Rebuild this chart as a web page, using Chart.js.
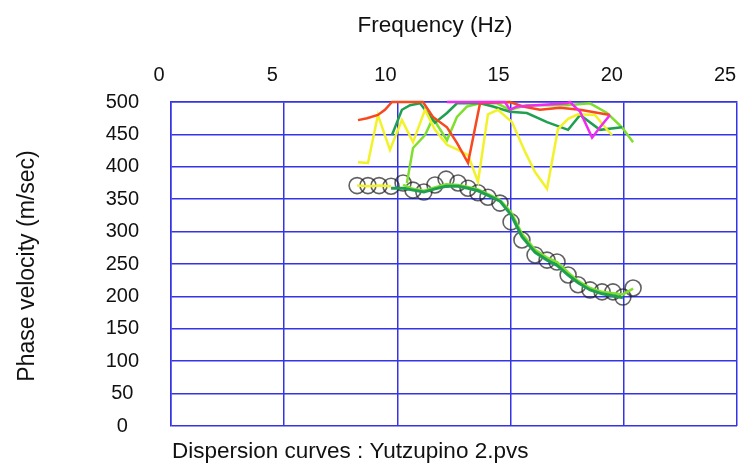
<!DOCTYPE html>
<html>
<head>
<meta charset="utf-8">
<script src="https://cdn.jsdelivr.net/npm/chart.js@4"></script>
<style>
  html, body { margin: 0; background: #fff; }
</style>
</head>
<body>
<canvas id="chart" width="741" height="463"></canvas>
<script>
// axis ticks
const freqTicks = [0, 5, 10, 15, 20, 25];
const velTicks = [0, 50, 100, 150, 200, 250, 300, 350, 400, 450, 500];

// observed dispersion points (open circles)
const obsFreq = [8.22, 8.70, 9.19, 9.72, 10.25, 10.69, 11.17, 11.66, 12.15, 12.68, 13.12, 13.56, 14.00,
  14.53, 15.02, 15.50, 16.08, 16.61, 17.05, 17.54, 17.98, 18.51, 19.04, 19.52, 19.96, 20.41];
const obsVel = [371, 371, 371, 370, 375, 364, 361, 372, 381, 375, 367, 360, 353,
  344, 315, 287, 264, 256, 253, 233, 218, 210, 207, 207, 199, 213];

// fitted fundamental mode (dark green)
const fitFreq = [9.72, 10.25, 10.69, 11.17, 11.66, 12.15, 12.68, 13.12, 13.56, 14.00, 14.53, 15.02,
  15.50, 16.08, 16.61, 17.05, 17.54, 17.98, 18.51, 19.04, 19.52, 19.96];
const fitVel = [367, 367, 364, 361, 366, 370, 370, 367, 363, 356, 347, 326,
  292, 268, 256, 248, 233, 221, 210, 204, 201, 198];

// light green curve along the fundamental mode
const limeLowFreq = [10.25, 10.69, 11.17, 11.66, 12.15, 12.68, 13.12, 13.56, 14.00, 14.53, 15.02,
  15.50, 16.08, 16.61, 17.05, 17.54, 17.98, 18.51, 19.04, 19.52, 19.96, 20.41];
const limeLowVel = [372, 366, 363, 368, 373, 372, 369, 365, 358, 349, 330,
  297, 272, 260, 253, 237, 224, 213, 207, 205, 203, 212];

// short yellow piece at low frequency
const yellowLowFreq = [8.22, 8.70, 9.19, 9.72];
const yellowLowVel = [371, 370, 371, 370];

// higher mode picks
const yellowFreq = [8.26, 8.70, 9.14, 9.67, 10.20, 10.69, 11.22, 11.66, 12.19, 12.68, 13.12, 13.56,
  14.00, 14.44, 15.06, 15.64, 16.08, 16.61, 17.09, 17.54, 17.98, 18.73, 19.17, 19.48];
const yellowVel = [407, 406, 480, 426, 472, 438, 488, 457, 434, 426, 418, 377,
  481, 488, 469, 423, 392, 366, 458, 474, 481, 480, 461, 449];

const redFreq = [8.26, 8.66, 9.14, 9.45, 9.76, 10.5, 11.13, 11.57, 12.19, 12.63, 13.12, 13.65,
  14.97, 15.55, 16.30, 17.18, 18.07, 19.39];
const redVel = [472, 475, 480, 488, 500, 500, 500, 477, 461, 437, 406, 498,
  500, 493, 488, 491, 488, 480];

const greenFreq = [9.76, 10.20, 10.56, 11.00, 11.66, 12.19, 12.63, 13.65, 14.22, 14.97, 15.72,
  16.61, 17.54, 18.07, 18.95, 19.92];
const greenVel = [449, 488, 495, 498, 468, 483, 498, 498, 493, 485, 483,
  469, 457, 480, 457, 461];

const limeFreq = [10.42, 10.69, 11.22, 11.57, 12.19, 12.63, 13.07, 13.65, 14.40, 14.97, 15.72,
  17.49, 18.51, 19.26, 19.92, 20.41];
const limeVel = [375, 429, 449, 475, 441, 477, 493, 498, 498, 488, 495,
  495, 498, 483, 461, 438];

const magentaFreq = [12.19, 14.75, 14.97, 15.28, 17.49, 17.62, 18.07, 18.60, 18.95, 19.39];
const magentaVel = [500, 500, 488, 493, 498, 500, 485, 445, 461, 480];

const xTitle = "Frequency (Hz)";
const yTitle = "Phase velocity (m/sec)";
const caption = "Dispersion curves : Yutzupino 2.pvs";

const pts = (xs, ys) => xs.map((x, i) => ({ x: x, y: ys[i] }));
const FONT = '"Liberation Sans", Arial, sans-serif';

function lineSet(label, xs, ys, color, width, order) {
  return {
    label: label,
    data: pts(xs, ys),
    borderColor: color,
    backgroundColor: color,
    borderWidth: width,
    pointRadius: 0,
    showLine: true,
    tension: 0,
    clip: 8,
    order: order
  };
}

// titles and caption
const textPlugin = {
  id: 'texts',
  afterDraw(chart) {
    const { ctx, chartArea } = chart;
    ctx.save();
    ctx.fillStyle = '#111';
    ctx.font = '22.5px ' + FONT;
    ctx.textBaseline = 'middle';
    ctx.textAlign = 'center';
    ctx.fillText(xTitle, (chartArea.left + chartArea.right) / 2 - 19, 26);
    ctx.textAlign = 'left';
    ctx.fillText(caption, chartArea.left + 1, 452);
    ctx.font = '23px ' + FONT;
    ctx.translate(28, (chartArea.top + chartArea.bottom) / 2 + 2);
    ctx.rotate(-Math.PI / 2);
    ctx.textAlign = 'center';
    ctx.fillText(yTitle, 0, 0);
    ctx.restore();
  }
};

new Chart(document.getElementById('chart'), {
  type: 'scatter',
  data: {
    datasets: [
      lineSet('fit', fitFreq, fitVel, '#1fa050', 3, 1),
      lineSet('lime low', limeLowFreq, limeLowVel, '#7ee02a', 2.5, 2),
      lineSet('yellow low', yellowLowFreq, yellowLowVel, '#f2f22a', 2.5, 2),
      lineSet('magenta', magentaFreq, magentaVel, '#f02af0', 2.5, 3),
      lineSet('red', redFreq, redVel, '#f8481e', 2.5, 3),
      lineSet('yellow', yellowFreq, yellowVel, '#f2f22a', 2.5, 3),
      lineSet('green', greenFreq, greenVel, '#1fa050', 2.5, 3),
      lineSet('lime', limeFreq, limeVel, '#7ee02a', 2.5, 3),
      {
        label: 'observed',
        data: pts(obsFreq, obsVel),
        showLine: false,
        pointStyle: 'circle',
        pointRadius: 8,
        pointBorderWidth: 1.6,
        pointBorderColor: 'rgba(30,30,30,0.7)',
        pointBackgroundColor: 'rgba(0,0,0,0)',
        clip: 10,
        order: 5
      }
    ]
  },
  options: {
    responsive: false,
    animation: false,
    events: [],
    layout: { autoPadding: false, padding: { top: 0, left: 0, right: 4, bottom: 37 } },
    plugins: { legend: { display: false }, tooltip: { enabled: false } },
    scales: {
      x: {
        type: 'linear',
        position: 'top',
        min: 0,
        max: 25,
        afterBuildTicks: s => { s.ticks = freqTicks.map(v => ({ value: v })); },
        afterFit: s => { s.height = 102; s.paddingLeft = 0; s.paddingRight = 0; },
        grid: { color: '#3434e4', lineWidth: 1.5, drawTicks: false },
        border: { color: '#3434e4', width: 1.5 },
        ticks: { padding: 15, labelOffset: -12, color: '#111', font: { family: FONT, size: 20 } }
      },
      y: {
        type: 'linear',
        min: 0,
        max: 500,
        afterBuildTicks: s => { s.ticks = velTicks.map(v => ({ value: v })); },
        afterFit: s => { s.width = 171; s.paddingTop = 0; s.paddingBottom = 0; },
        grid: { color: '#3434e4', lineWidth: 1.5, drawTicks: false },
        border: { color: '#3434e4', width: 1.5 },
        ticks: { padding: 32, crossAlign: 'center', color: '#111', font: { family: FONT, size: 20 } }
      }
    }
  },
  plugins: [textPlugin]
});
</script>
</body>
</html>
